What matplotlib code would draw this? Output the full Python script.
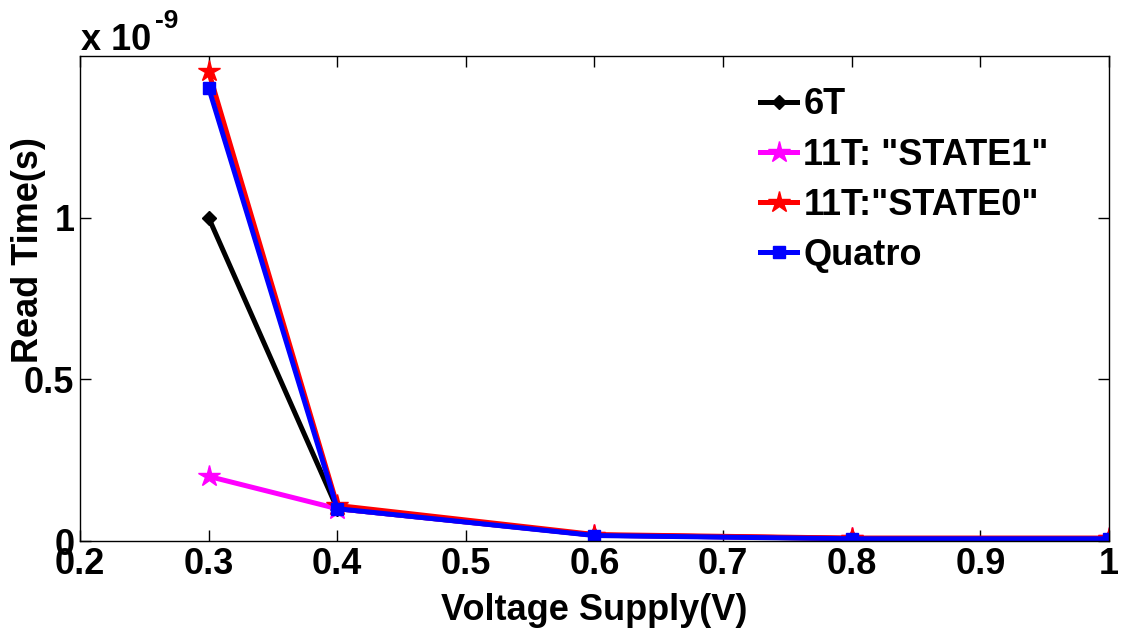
import matplotlib
matplotlib.use("Agg")
import matplotlib.pyplot as plt
import numpy as np

plt.rcParams['font.family'] = ['Liberation Sans', 'DejaVu Sans']
plt.rcParams['font.weight'] = 'bold'

# supply voltage (V)
voltage = [0.3, 0.4, 0.6, 0.8, 1.0]

# read time, in units of 1e-9 s
t_6t = [1.0, 0.10, 0.018, 0.008, 0.008]
t_state1 = [0.20, 0.10, 0.018, 0.008, 0.008]
t_state0 = [1.452, 0.11, 0.02, 0.009, 0.009]
t_quatro = [1.402, 0.10, 0.017, 0.007, 0.007]

labels = ['6T', '11T: "STATE1"', '11T:"STATE0"', 'Quatro']

fig = plt.figure(figsize=(11.22, 6.31), dpi=100)
ax = fig.add_axes([0.0713, 0.1426, 0.9171, 0.7687])

scale = 1e-9
ax.plot(voltage, np.array(t_6t) * scale, color='black', lw=3.6, marker='D', ms=7, label=labels[0])
ax.plot(voltage, np.array(t_state1) * scale, color='#ff00ff', lw=3.6, marker='*', ms=16, label=labels[1])
ax.plot(voltage, np.array(t_state0) * scale, color='red', lw=3.6, marker='*', ms=16, label=labels[2])
ax.plot(voltage, np.array(t_quatro) * scale, color='blue', lw=3.6, marker='s', ms=8, label=labels[3])

ax.set_xlim(0.2, 1.0)
ax.set_ylim(0, 1.5e-9)
ax.set_xticks(np.arange(0.2, 1.01, 0.1))
ax.set_xticklabels(['0.2', '0.3', '0.4', '0.5', '0.6', '0.7', '0.8', '0.9', '1'])
ax.set_yticks([0, 0.5e-9, 1e-9])
ax.set_yticklabels(['0', '0.5', '1'])
ax.tick_params(direction='in', top=True, right=True, length=8, width=1,
               labelsize=26, pad=4)
for lbl in ax.get_xticklabels() + ax.get_yticklabels():
    lbl.set_fontweight('bold')
for s in ax.spines.values():
    s.set_linewidth(1)

ax.set_xlabel('Voltage Supply(V)', fontsize=26, fontweight='bold', labelpad=8)
ax.set_ylabel('Read Time(s)', fontsize=26, fontweight='bold')
ax.yaxis.set_label_coords(-0.033, 0.6)

fig.text(0.072, 0.92, 'x 10', fontsize=26, fontweight='bold', ha='left', va='baseline')
fig.text(0.138, 0.955, '-9', fontsize=19, fontweight='bold', ha='left', va='baseline')

leg = ax.legend(loc='upper left', bbox_to_anchor=(0.661, 0.935), frameon=False,
                fontsize=26, handlelength=1.03, handletextpad=0.17, labelspacing=0.42,
                borderpad=0, borderaxespad=0, markerscale=1.0)
for t in leg.get_texts():
    t.set_fontweight('bold')

fig.savefig('out.png', dpi=100)
